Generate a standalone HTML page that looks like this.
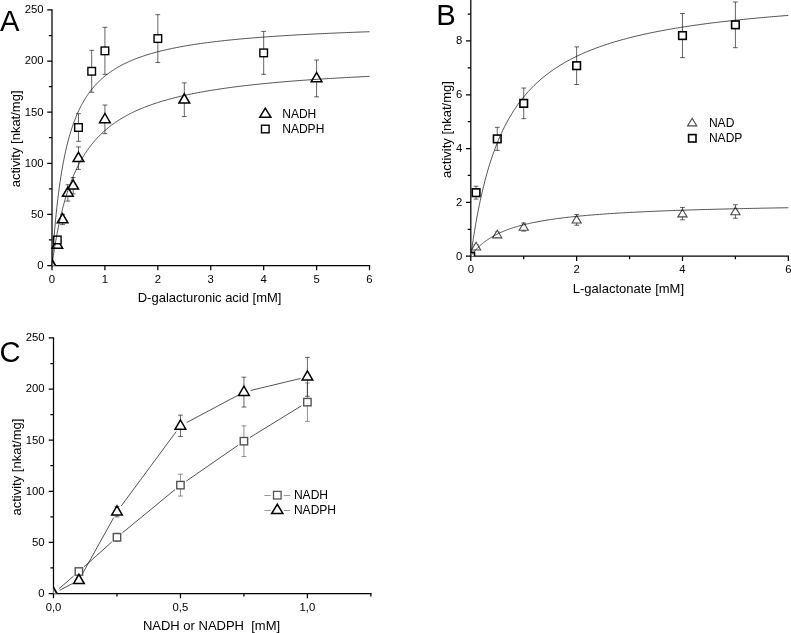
<!DOCTYPE html>
<html><head><meta charset="utf-8"><title>Figure</title>
<style>html,body{margin:0;padding:0;background:#fff}svg{display:block}</style></head>
<body>
<svg width="791" height="633" viewBox="0 0 791 633">
<rect width="791" height="633" fill="#fff"/>
<path d="M52.00 9.32 V266.12" stroke="#000" stroke-width="1.25" fill="none" stroke-linecap="butt"/>
<path d="M51.38 265.50 H370.14" stroke="#000" stroke-width="1.25" fill="none" stroke-linecap="butt"/>
<path d="M52.00 265.50 v4.8 M104.92 265.50 v4.8 M157.84 265.50 v4.8 M210.76 265.50 v4.8 M263.68 265.50 v4.8 M316.60 265.50 v4.8 M369.52 265.50 v4.8 M52.00 265.50 h-4.8 M52.00 214.39 h-4.8 M52.00 163.28 h-4.8 M52.00 112.17 h-4.8 M52.00 61.06 h-4.8 M52.00 9.95 h-4.8 M52.00 239.94 h-3.1 M52.00 188.83 h-3.1 M52.00 137.72 h-3.1 M52.00 86.62 h-3.1 M52.00 35.50 h-3.1 " stroke="#000" stroke-width="1.25" fill="none"/>
<text x="52.00" y="282.70" text-anchor="middle" font-size="11.3" font-family="Liberation Sans, Arial, sans-serif" fill="#000">0</text>
<text x="104.92" y="282.70" text-anchor="middle" font-size="11.3" font-family="Liberation Sans, Arial, sans-serif" fill="#000">1</text>
<text x="157.84" y="282.70" text-anchor="middle" font-size="11.3" font-family="Liberation Sans, Arial, sans-serif" fill="#000">2</text>
<text x="210.76" y="282.70" text-anchor="middle" font-size="11.3" font-family="Liberation Sans, Arial, sans-serif" fill="#000">3</text>
<text x="263.68" y="282.70" text-anchor="middle" font-size="11.3" font-family="Liberation Sans, Arial, sans-serif" fill="#000">4</text>
<text x="316.60" y="282.70" text-anchor="middle" font-size="11.3" font-family="Liberation Sans, Arial, sans-serif" fill="#000">5</text>
<text x="369.52" y="282.70" text-anchor="middle" font-size="11.3" font-family="Liberation Sans, Arial, sans-serif" fill="#000">6</text>
<text x="43.60" y="268.85" text-anchor="end" font-size="11.3" font-family="Liberation Sans, Arial, sans-serif" fill="#000">0</text>
<text x="43.60" y="217.74" text-anchor="end" font-size="11.3" font-family="Liberation Sans, Arial, sans-serif" fill="#000">50</text>
<text x="43.60" y="166.63" text-anchor="end" font-size="11.3" font-family="Liberation Sans, Arial, sans-serif" fill="#000">100</text>
<text x="43.60" y="115.52" text-anchor="end" font-size="11.3" font-family="Liberation Sans, Arial, sans-serif" fill="#000">150</text>
<text x="43.60" y="64.41" text-anchor="end" font-size="11.3" font-family="Liberation Sans, Arial, sans-serif" fill="#000">200</text>
<text x="43.60" y="13.30" text-anchor="end" font-size="11.3" font-family="Liberation Sans, Arial, sans-serif" fill="#000">250</text>
<clipPath id="cA"><rect x="52.0" y="0" width="400" height="265.5"/></clipPath>
<g clip-path="url(#cA)"><path d="M46.65 268.80 L52.00 259.60 L57.35 268.80 Z" fill="#fff" stroke="#000" stroke-width="1.8" stroke-linejoin="miter"/></g>
<path d="M57.29 241.99 V248.12 M54.89 241.99 H59.69 M54.89 248.12 H59.69" stroke="#111" stroke-width="0.65" fill="none"/>
<path d="M62.58 214.39 V224.61 M60.18 214.39 H64.98 M60.18 224.61 H64.98" stroke="#111" stroke-width="0.65" fill="none"/>
<path d="M67.88 184.75 V201.10 M65.48 184.75 H70.28 M65.48 201.10 H70.28" stroke="#111" stroke-width="0.65" fill="none"/>
<path d="M73.17 177.59 V193.95 M70.77 177.59 H75.57 M70.77 193.95 H75.57" stroke="#111" stroke-width="0.65" fill="none"/>
<path d="M78.46 146.92 V169.41 M76.06 146.92 H80.86 M76.06 169.41 H80.86" stroke="#111" stroke-width="0.65" fill="none"/>
<path d="M104.92 105.01 V133.64 M102.52 105.01 H107.32 M102.52 133.64 H107.32" stroke="#111" stroke-width="0.65" fill="none"/>
<path d="M184.30 82.83 V116.57 M181.90 82.83 H186.70 M181.90 116.57 H186.70" stroke="#111" stroke-width="0.65" fill="none"/>
<path d="M316.60 60.04 V96.84 M314.20 60.04 H319.00 M314.20 96.84 H319.00" stroke="#111" stroke-width="0.65" fill="none"/>
<path d="M51.94 248.36 L57.29 239.16 L62.64 248.36 Z" fill="#fff" stroke="#000" stroke-width="1.5" stroke-linejoin="miter"/>
<path d="M57.23 222.80 L62.58 213.60 L67.93 222.80 Z" fill="#fff" stroke="#000" stroke-width="1.5" stroke-linejoin="miter"/>
<path d="M62.53 196.22 L67.88 187.02 L73.23 196.22 Z" fill="#fff" stroke="#000" stroke-width="1.5" stroke-linejoin="miter"/>
<path d="M67.82 189.07 L73.17 179.87 L78.52 189.07 Z" fill="#fff" stroke="#000" stroke-width="1.5" stroke-linejoin="miter"/>
<path d="M73.11 161.47 L78.46 152.27 L83.81 161.47 Z" fill="#fff" stroke="#000" stroke-width="1.5" stroke-linejoin="miter"/>
<path d="M99.57 122.63 L104.92 113.43 L110.27 122.63 Z" fill="#fff" stroke="#000" stroke-width="1.5" stroke-linejoin="miter"/>
<path d="M178.95 103.00 L184.30 93.80 L189.65 103.00 Z" fill="#fff" stroke="#000" stroke-width="1.5" stroke-linejoin="miter"/>
<path d="M311.25 81.74 L316.60 72.54 L321.95 81.74 Z" fill="#fff" stroke="#000" stroke-width="1.5" stroke-linejoin="miter"/>
<path d="M57.29 236.88 V243.01 M54.89 236.88 H59.69 M54.89 243.01 H59.69" stroke="#111" stroke-width="0.65" fill="none"/>
<path d="M78.46 113.70 V141.30 M76.06 113.70 H80.86 M76.06 141.30 H80.86" stroke="#111" stroke-width="0.65" fill="none"/>
<path d="M91.69 50.33 V92.24 M89.29 50.33 H94.09 M89.29 92.24 H94.09" stroke="#111" stroke-width="0.65" fill="none"/>
<path d="M104.92 27.33 V74.35 M102.52 27.33 H107.32 M102.52 74.35 H107.32" stroke="#111" stroke-width="0.65" fill="none"/>
<path d="M157.84 14.65 V62.49 M155.44 14.65 H160.24 M155.44 62.49 H160.24" stroke="#111" stroke-width="0.65" fill="none"/>
<path d="M263.68 31.42 V74.35 M261.28 31.42 H266.08 M261.28 74.35 H266.08" stroke="#111" stroke-width="0.65" fill="none"/>
<rect x="53.49" y="236.14" width="7.6" height="7.6" fill="#fff" stroke="#000" stroke-width="1.4"/>
<rect x="74.66" y="123.70" width="7.6" height="7.6" fill="#fff" stroke="#000" stroke-width="1.4"/>
<rect x="87.89" y="67.48" width="7.6" height="7.6" fill="#fff" stroke="#000" stroke-width="1.4"/>
<rect x="101.12" y="47.04" width="7.6" height="7.6" fill="#fff" stroke="#000" stroke-width="1.4"/>
<rect x="154.04" y="34.77" width="7.6" height="7.6" fill="#fff" stroke="#000" stroke-width="1.4"/>
<rect x="259.88" y="49.08" width="7.6" height="7.6" fill="#fff" stroke="#000" stroke-width="1.4"/>
<polyline points="52.00,265.50 52.00,265.44 52.01,265.28 52.03,265.00 52.06,264.62 52.09,264.12 52.13,263.52 52.17,262.81 52.23,262.00 52.29,261.09 52.35,260.08 52.43,258.97 52.51,257.77 52.60,256.48 52.69,255.10 52.79,253.63 52.90,252.09 53.02,250.46 53.14,248.77 53.27,247.00 53.41,245.17 53.56,243.27 53.71,241.32 53.87,239.31 54.03,237.25 54.20,235.15 54.38,233.00 54.57,230.81 54.77,228.59 54.97,226.33 55.18,224.05 55.39,221.74 55.61,219.41 55.84,217.06 56.08,214.70 56.32,212.32 56.57,209.94 56.83,207.55 57.09,205.15 57.37,202.76 57.64,200.37 57.93,197.98 58.22,195.59 58.52,193.22 58.83,190.85 59.14,188.50 59.47,186.16 59.79,183.83 60.13,181.52 60.47,179.23 60.82,176.96 61.18,174.70 61.54,172.47 61.91,170.26 62.29,168.07 62.67,165.91 63.06,163.77 63.46,161.66 63.87,159.57 64.28,157.51 64.70,155.47 65.13,153.46 65.56,151.48 66.00,149.53 66.45,147.60 66.91,145.70 67.37,143.83 67.84,141.99 68.31,140.17 68.80,138.38 69.29,136.62 69.78,134.89 70.29,133.18 70.80,131.50 71.32,129.85 71.84,128.22 72.38,126.63 72.92,125.05 73.46,123.51 74.02,121.99 74.58,120.49 75.15,119.02 75.72,117.58 76.30,116.16 76.89,114.76 77.49,113.39 78.09,112.04 78.70,110.72 79.32,109.42 79.95,108.14 80.58,106.88 81.22,105.65 81.86,104.44 82.51,103.25 83.17,102.08 83.84,100.93 84.51,99.80 85.19,98.69 85.88,97.59 86.58,96.52 87.28,95.47 87.99,94.44 88.71,93.42 89.43,92.42 90.16,91.44 90.90,90.48 91.64,89.53 92.39,88.60 93.15,87.69 93.92,86.79 94.69,85.91 95.47,85.04 96.26,84.19 97.05,83.35 97.85,82.53 98.66,81.72 99.47,80.93 100.29,80.15 101.12,79.38 101.96,78.63 102.80,77.89 103.65,77.16 104.51,76.44 105.38,75.74 106.25,75.04 107.12,74.36 108.01,73.69 108.90,73.04 109.80,72.39 110.71,71.75 111.62,71.13 112.54,70.51 113.47,69.91 114.41,69.31 115.35,68.73 116.30,68.15 117.25,67.58 118.22,67.03 119.19,66.48 120.16,65.94 121.15,65.41 122.14,64.89 123.14,64.37 124.14,63.87 125.16,63.37 126.18,62.88 127.20,62.40 128.24,61.92 129.28,61.45 130.33,60.99 131.38,60.54 132.44,60.10 133.51,59.66 134.59,59.23 135.67,58.80 136.76,58.38 137.86,57.97 138.96,57.56 140.07,57.16 141.19,56.77 142.32,56.38 143.45,56.00 144.59,55.62 145.74,55.25 146.89,54.88 148.05,54.52 149.22,54.17 150.39,53.82 151.57,53.47 152.76,53.14 153.96,52.80 155.16,52.47 156.37,52.15 157.59,51.83 158.81,51.51 160.05,51.20 161.28,50.89 162.53,50.59 163.78,50.29 165.04,50.00 166.31,49.71 167.58,49.42 168.86,49.14 170.15,48.86 171.44,48.58 172.75,48.31 174.05,48.05 175.37,47.78 176.69,47.52 178.02,47.27 179.36,47.01 180.70,46.77 182.06,46.52 183.41,46.28 184.78,46.04 186.15,45.80 187.53,45.57 188.92,45.34 190.31,45.11 191.71,44.88 193.12,44.66 194.53,44.44 195.96,44.23 197.39,44.02 198.82,43.81 200.26,43.60 201.71,43.39 203.17,43.19 204.64,42.99 206.11,42.79 207.58,42.60 209.07,42.41 210.56,42.22 212.06,42.03 213.57,41.84 215.08,41.66 216.60,41.48 218.13,41.30 219.66,41.13 221.21,40.95 222.76,40.78 224.31,40.61 225.87,40.44 227.44,40.27 229.02,40.11 230.61,39.95 232.20,39.79 233.79,39.63 235.40,39.47 237.01,39.32 238.63,39.17 240.26,39.01 241.89,38.87 243.53,38.72 245.18,38.57 246.83,38.43 248.50,38.29 250.16,38.14 251.84,38.01 253.52,37.87 255.21,37.73 256.91,37.60 258.61,37.46 260.32,37.33 262.04,37.20 263.77,37.07 265.50,36.95 267.24,36.82 268.99,36.70 270.74,36.57 272.50,36.45 274.27,36.33 276.04,36.21 277.82,36.09 279.61,35.98 281.41,35.86 283.21,35.75 285.02,35.63 286.84,35.52 288.66,35.41 290.49,35.30 292.33,35.19 294.18,35.09 296.03,34.98 297.89,34.88 299.75,34.77 301.63,34.67 303.51,34.57 305.40,34.47 307.29,34.37 309.19,34.27 311.10,34.17 313.02,34.07 314.94,33.98 316.87,33.88 318.80,33.79 320.75,33.70 322.70,33.61 324.66,33.52 326.62,33.43 328.60,33.34 330.57,33.25 332.56,33.16 334.55,33.08 336.55,32.99 338.56,32.90 340.58,32.82 342.60,32.74 344.63,32.66 346.66,32.57 348.70,32.49 350.75,32.41 352.81,32.33 354.88,32.26 356.95,32.18 359.02,32.10 361.11,32.02 363.20,31.95 365.30,31.87 367.41,31.80 369.52,31.73" fill="none" stroke="#000" stroke-width="0.68"/>
<polyline points="52.00,265.50 52.00,265.47 52.01,265.40 52.03,265.26 52.06,265.08 52.09,264.85 52.13,264.56 52.17,264.23 52.23,263.84 52.29,263.40 52.35,262.92 52.43,262.38 52.51,261.80 52.60,261.17 52.69,260.50 52.79,259.78 52.90,259.01 53.02,258.21 53.14,257.36 53.27,256.47 53.41,255.54 53.56,254.57 53.71,253.57 53.87,252.53 54.03,251.46 54.20,250.35 54.38,249.21 54.57,248.04 54.77,246.85 54.97,245.62 55.18,244.37 55.39,243.09 55.61,241.79 55.84,240.47 56.08,239.13 56.32,237.77 56.57,236.39 56.83,234.99 57.09,233.58 57.37,232.15 57.64,230.71 57.93,229.26 58.22,227.80 58.52,226.33 58.83,224.85 59.14,223.37 59.47,221.88 59.79,220.38 60.13,218.88 60.47,217.38 60.82,215.87 61.18,214.36 61.54,212.86 61.91,211.35 62.29,209.85 62.67,208.34 63.06,206.84 63.46,205.35 63.87,203.86 64.28,202.37 64.70,200.89 65.13,199.42 65.56,197.95 66.00,196.49 66.45,195.04 66.91,193.60 67.37,192.16 67.84,190.74 68.31,189.32 68.80,187.92 69.29,186.52 69.78,185.14 70.29,183.76 70.80,182.40 71.32,181.05 71.84,179.71 72.38,178.38 72.92,177.07 73.46,175.76 74.02,174.47 74.58,173.20 75.15,171.93 75.72,170.68 76.30,169.44 76.89,168.21 77.49,167.00 78.09,165.79 78.70,164.61 79.32,163.43 79.95,162.27 80.58,161.12 81.22,159.98 81.86,158.86 82.51,157.75 83.17,156.66 83.84,155.57 84.51,154.50 85.19,153.44 85.88,152.40 86.58,151.36 87.28,150.35 87.99,149.34 88.71,148.34 89.43,147.36 90.16,146.39 90.90,145.43 91.64,144.49 92.39,143.55 93.15,142.63 93.92,141.72 94.69,140.82 95.47,139.94 96.26,139.06 97.05,138.20 97.85,137.34 98.66,136.50 99.47,135.67 100.29,134.85 101.12,134.04 101.96,133.24 102.80,132.45 103.65,131.68 104.51,130.91 105.38,130.15 106.25,129.40 107.12,128.67 108.01,127.94 108.90,127.22 109.80,126.51 110.71,125.81 111.62,125.12 112.54,124.44 113.47,123.77 114.41,123.11 115.35,122.45 116.30,121.81 117.25,121.17 118.22,120.54 119.19,119.92 120.16,119.31 121.15,118.70 122.14,118.11 123.14,117.52 124.14,116.94 125.16,116.36 126.18,115.80 127.20,115.24 128.24,114.69 129.28,114.15 130.33,113.61 131.38,113.08 132.44,112.56 133.51,112.04 134.59,111.53 135.67,111.03 136.76,110.53 137.86,110.04 138.96,109.56 140.07,109.08 141.19,108.61 142.32,108.15 143.45,107.69 144.59,107.23 145.74,106.79 146.89,106.34 148.05,105.91 149.22,105.48 150.39,105.05 151.57,104.63 152.76,104.22 153.96,103.81 155.16,103.40 156.37,103.01 157.59,102.61 158.81,102.22 160.05,101.84 161.28,101.46 162.53,101.08 163.78,100.71 165.04,100.35 166.31,99.99 167.58,99.63 168.86,99.28 170.15,98.93 171.44,98.58 172.75,98.24 174.05,97.91 175.37,97.58 176.69,97.25 178.02,96.93 179.36,96.61 180.70,96.29 182.06,95.98 183.41,95.67 184.78,95.36 186.15,95.06 187.53,94.77 188.92,94.47 190.31,94.18 191.71,93.89 193.12,93.61 194.53,93.33 195.96,93.05 197.39,92.78 198.82,92.51 200.26,92.24 201.71,91.97 203.17,91.71 204.64,91.45 206.11,91.20 207.58,90.94 209.07,90.69 210.56,90.45 212.06,90.20 213.57,89.96 215.08,89.72 216.60,89.49 218.13,89.25 219.66,89.02 221.21,88.79 222.76,88.57 224.31,88.34 225.87,88.12 227.44,87.90 229.02,87.69 230.61,87.47 232.20,87.26 233.79,87.05 235.40,86.85 237.01,86.64 238.63,86.44 240.26,86.24 241.89,86.04 243.53,85.84 245.18,85.65 246.83,85.46 248.50,85.27 250.16,85.08 251.84,84.89 253.52,84.71 255.21,84.53 256.91,84.35 258.61,84.17 260.32,83.99 262.04,83.82 263.77,83.65 265.50,83.48 267.24,83.31 268.99,83.14 270.74,82.97 272.50,82.81 274.27,82.65 276.04,82.49 277.82,82.33 279.61,82.17 281.41,82.01 283.21,81.86 285.02,81.71 286.84,81.55 288.66,81.40 290.49,81.26 292.33,81.11 294.18,80.96 296.03,80.82 297.89,80.68 299.75,80.54 301.63,80.40 303.51,80.26 305.40,80.12 307.29,79.98 309.19,79.85 311.10,79.72 313.02,79.58 314.94,79.45 316.87,79.32 318.80,79.20 320.75,79.07 322.70,78.94 324.66,78.82 326.62,78.70 328.60,78.57 330.57,78.45 332.56,78.33 334.55,78.21 336.55,78.10 338.56,77.98 340.58,77.86 342.60,77.75 344.63,77.64 346.66,77.52 348.70,77.41 350.75,77.30 352.81,77.19 354.88,77.08 356.95,76.98 359.02,76.87 361.11,76.76 363.20,76.66 365.30,76.56 367.41,76.45 369.52,76.35" fill="none" stroke="#000" stroke-width="0.68"/>
<path d="M259.70 117.30 L265.30 108.10 L270.90 117.30 Z" fill="#fff" stroke="#000" stroke-width="1.5" stroke-linejoin="miter"/>
<rect x="261.50" y="125.20" width="7.6" height="7.6" fill="#fff" stroke="#000" stroke-width="1.4"/>
<text x="282.2" y="118.0" font-size="12.05" font-family="Liberation Sans, Arial, sans-serif" fill="#000">NADH</text>
<text x="282.2" y="132.9" font-size="12.05" font-family="Liberation Sans, Arial, sans-serif" fill="#000">NADPH</text>
<text transform="translate(20.2,138.9) rotate(-90)" text-anchor="middle" font-size="13" font-family="Liberation Sans, Arial, sans-serif" fill="#000">activity [nkat/mg]</text>
<text x="209.6" y="302.1" text-anchor="middle" font-size="13" font-family="Liberation Sans, Arial, sans-serif" fill="#000" style="white-space:pre">D-galacturonic acid [mM]</text>
<text x="0" y="31" font-size="29.2" font-family="Liberation Sans, Arial, sans-serif" fill="#000">A</text>
<path d="M470.80 -2.62 V256.77" stroke="#000" stroke-width="1.25" fill="none" stroke-linecap="butt"/>
<path d="M470.18 256.15 H788.94" stroke="#000" stroke-width="1.25" fill="none" stroke-linecap="butt"/>
<path d="M470.80 256.15 v4.8 M576.64 256.15 v4.8 M682.48 256.15 v4.8 M788.32 256.15 v4.8 M523.72 256.15 v3.1 M629.56 256.15 v3.1 M735.40 256.15 v3.1 M470.80 256.15 h-4.8 M470.80 202.35 h-4.8 M470.80 148.55 h-4.8 M470.80 94.75 h-4.8 M470.80 40.95 h-4.8 M470.80 229.25 h-3.1 M470.80 175.45 h-3.1 M470.80 121.65 h-3.1 M470.80 67.85 h-3.1 M470.80 14.05 h-3.1 " stroke="#000" stroke-width="1.25" fill="none"/>
<text x="470.80" y="273.35" text-anchor="middle" font-size="11.3" font-family="Liberation Sans, Arial, sans-serif" fill="#000">0</text>
<text x="576.64" y="273.35" text-anchor="middle" font-size="11.3" font-family="Liberation Sans, Arial, sans-serif" fill="#000">2</text>
<text x="682.48" y="273.35" text-anchor="middle" font-size="11.3" font-family="Liberation Sans, Arial, sans-serif" fill="#000">4</text>
<text x="788.32" y="273.35" text-anchor="middle" font-size="11.3" font-family="Liberation Sans, Arial, sans-serif" fill="#000">6</text>
<text x="462.40" y="259.50" text-anchor="end" font-size="11.3" font-family="Liberation Sans, Arial, sans-serif" fill="#000">0</text>
<text x="462.40" y="205.70" text-anchor="end" font-size="11.3" font-family="Liberation Sans, Arial, sans-serif" fill="#000">2</text>
<text x="462.40" y="151.90" text-anchor="end" font-size="11.3" font-family="Liberation Sans, Arial, sans-serif" fill="#000">4</text>
<text x="462.40" y="98.10" text-anchor="end" font-size="11.3" font-family="Liberation Sans, Arial, sans-serif" fill="#000">6</text>
<text x="462.40" y="44.30" text-anchor="end" font-size="11.3" font-family="Liberation Sans, Arial, sans-serif" fill="#000">8</text>
<clipPath id="cB"><rect x="470.8" y="0" width="400" height="256.15"/></clipPath>
<g clip-path="url(#cB)"><rect x="467.10" y="252.45" width="7.4" height="7.4" fill="#fff" stroke="#000" stroke-width="1.6"/></g>
<path d="M476.09 244.58 V248.89 M473.69 244.58 H478.49 M473.69 248.89 H478.49" stroke="#111" stroke-width="0.65" fill="none"/>
<path d="M497.26 231.94 V237.32 M494.86 231.94 H499.66 M494.86 237.32 H499.66" stroke="#111" stroke-width="0.65" fill="none"/>
<path d="M523.72 223.06 V231.13 M521.32 223.06 H526.12 M521.32 231.13 H526.12" stroke="#111" stroke-width="0.65" fill="none"/>
<path d="M576.64 214.45 V225.21 M574.24 214.45 H579.04 M574.24 225.21 H579.04" stroke="#111" stroke-width="0.65" fill="none"/>
<path d="M682.48 207.46 V219.83 M680.08 207.46 H684.88 M680.08 219.83 H684.88" stroke="#111" stroke-width="0.65" fill="none"/>
<path d="M735.40 204.77 V218.22 M733.00 204.77 H737.80 M733.00 218.22 H737.80" stroke="#111" stroke-width="0.65" fill="none"/>
<path d="M471.49 249.94 L476.09 242.33 L480.69 249.94 Z" fill="#fff" stroke="#484848" stroke-width="1.1" stroke-linejoin="miter"/>
<path d="M492.66 237.83 L497.26 230.23 L501.86 237.83 Z" fill="#fff" stroke="#484848" stroke-width="1.1" stroke-linejoin="miter"/>
<path d="M519.12 230.30 L523.72 222.70 L528.32 230.30 Z" fill="#fff" stroke="#484848" stroke-width="1.1" stroke-linejoin="miter"/>
<path d="M572.04 223.03 L576.64 215.43 L581.24 223.03 Z" fill="#fff" stroke="#484848" stroke-width="1.1" stroke-linejoin="miter"/>
<path d="M677.88 216.85 L682.48 209.25 L687.08 216.85 Z" fill="#fff" stroke="#484848" stroke-width="1.1" stroke-linejoin="miter"/>
<path d="M730.80 214.70 L735.40 207.10 L740.00 214.70 Z" fill="#fff" stroke="#484848" stroke-width="1.1" stroke-linejoin="miter"/>
<path d="M476.09 186.21 V199.12 M473.69 186.21 H478.49 M473.69 199.12 H478.49" stroke="#111" stroke-width="0.65" fill="none"/>
<path d="M497.26 127.30 V150.43 M494.86 127.30 H499.66 M494.86 150.43 H499.66" stroke="#111" stroke-width="0.65" fill="none"/>
<path d="M523.72 88.02 V118.69 M521.32 88.02 H526.12 M521.32 118.69 H526.12" stroke="#111" stroke-width="0.65" fill="none"/>
<path d="M576.64 46.87 V84.53 M574.24 46.87 H579.04 M574.24 84.53 H579.04" stroke="#111" stroke-width="0.65" fill="none"/>
<path d="M682.48 13.51 V57.63 M680.08 13.51 H684.88 M680.08 57.63 H684.88" stroke="#111" stroke-width="0.65" fill="none"/>
<path d="M735.40 1.95 V47.67 M733.00 1.95 H737.80 M733.00 47.67 H737.80" stroke="#111" stroke-width="0.65" fill="none"/>
<rect x="472.29" y="188.87" width="7.6" height="7.6" fill="#fff" stroke="#000" stroke-width="1.6"/>
<rect x="493.46" y="135.07" width="7.6" height="7.6" fill="#fff" stroke="#000" stroke-width="1.6"/>
<rect x="519.92" y="99.56" width="7.6" height="7.6" fill="#fff" stroke="#000" stroke-width="1.6"/>
<rect x="572.84" y="61.90" width="7.6" height="7.6" fill="#fff" stroke="#000" stroke-width="1.6"/>
<rect x="678.68" y="31.77" width="7.6" height="7.6" fill="#fff" stroke="#000" stroke-width="1.6"/>
<rect x="731.60" y="21.01" width="7.6" height="7.6" fill="#fff" stroke="#000" stroke-width="1.6"/>
<polyline points="470.80,256.15 470.80,256.12 470.81,256.05 470.83,255.91 470.86,255.73 470.89,255.50 470.93,255.21 470.97,254.88 471.03,254.49 471.09,254.05 471.15,253.56 471.23,253.02 471.31,252.44 471.40,251.80 471.49,251.12 471.59,250.39 471.70,249.62 471.82,248.80 471.94,247.94 472.07,247.03 472.21,246.09 472.36,245.10 472.51,244.07 472.67,243.00 472.83,241.89 473.00,240.75 473.18,239.57 473.37,238.36 473.57,237.11 473.77,235.83 473.98,234.52 474.19,233.18 474.41,231.81 474.64,230.42 474.88,228.99 475.12,227.54 475.37,226.07 475.63,224.58 475.89,223.06 476.17,221.52 476.44,219.97 476.73,218.40 477.02,216.80 477.32,215.20 477.63,213.58 477.94,211.94 478.27,210.30 478.59,208.64 478.93,206.97 479.27,205.29 479.62,203.60 479.98,201.91 480.34,200.21 480.71,198.51 481.09,196.80 481.47,195.08 481.86,193.37 482.26,191.65 482.67,189.93 483.08,188.21 483.50,186.49 483.93,184.77 484.36,183.05 484.80,181.34 485.25,179.63 485.71,177.92 486.17,176.22 486.64,174.52 487.11,172.83 487.60,171.14 488.09,169.46 488.58,167.79 489.09,166.13 489.60,164.47 490.12,162.82 490.64,161.18 491.18,159.55 491.72,157.93 492.26,156.32 492.82,154.71 493.38,153.12 493.95,151.54 494.52,149.97 495.10,148.41 495.69,146.87 496.29,145.33 496.89,143.81 497.50,142.29 498.12,140.79 498.75,139.31 499.38,137.83 500.02,136.37 500.66,134.92 501.31,133.48 501.97,132.05 502.64,130.64 503.31,129.24 503.99,127.86 504.68,126.48 505.38,125.12 506.08,123.77 506.79,122.44 507.51,121.12 508.23,119.81 508.96,118.52 509.70,117.23 510.44,115.97 511.19,114.71 511.95,113.47 512.72,112.24 513.49,111.02 514.27,109.81 515.06,108.62 515.85,107.44 516.65,106.28 517.46,105.12 518.27,103.98 519.09,102.85 519.92,101.74 520.76,100.63 521.60,99.54 522.45,98.46 523.31,97.39 524.18,96.34 525.05,95.29 525.93,94.26 526.81,93.24 527.70,92.23 528.60,91.23 529.51,90.25 530.42,89.27 531.34,88.31 532.27,87.35 533.21,86.41 534.15,85.48 535.10,84.56 536.05,83.65 537.02,82.75 537.99,81.86 538.96,80.98 539.95,80.11 540.94,79.25 541.94,78.40 542.94,77.56 543.96,76.73 544.98,75.91 546.00,75.10 547.04,74.30 548.08,73.51 549.13,72.73 550.18,71.95 551.24,71.19 552.31,70.43 553.39,69.68 554.47,68.95 555.56,68.22 556.66,67.49 557.76,66.78 558.87,66.08 559.99,65.38 561.12,64.69 562.25,64.01 563.39,63.34 564.54,62.67 565.69,62.01 566.85,61.36 568.02,60.72 569.19,60.09 570.37,59.46 571.56,58.84 572.76,58.22 573.96,57.62 575.17,57.02 576.39,56.42 577.61,55.84 578.85,55.26 580.08,54.69 581.33,54.12 582.58,53.56 583.84,53.01 585.11,52.46 586.38,51.92 587.66,51.38 588.95,50.85 590.24,50.33 591.55,49.81 592.85,49.30 594.17,48.80 595.49,48.30 596.82,47.80 598.16,47.31 599.50,46.83 600.86,46.35 602.21,45.88 603.58,45.41 604.95,44.94 606.33,44.49 607.72,44.03 609.11,43.59 610.51,43.14 611.92,42.71 613.33,42.27 614.76,41.84 616.19,41.42 617.62,41.00 619.06,40.59 620.51,40.17 621.97,39.77 623.44,39.37 624.91,38.97 626.38,38.58 627.87,38.19 629.36,37.80 630.86,37.42 632.37,37.04 633.88,36.67 635.40,36.30 636.93,35.94 638.46,35.58 640.01,35.22 641.56,34.87 643.11,34.52 644.67,34.17 646.24,33.83 647.82,33.49 649.40,33.15 651.00,32.82 652.59,32.49 654.20,32.16 655.81,31.84 657.43,31.52 659.06,31.21 660.69,30.90 662.33,30.59 663.98,30.28 665.63,29.98 667.30,29.68 668.96,29.38 670.64,29.09 672.32,28.79 674.01,28.51 675.71,28.22 677.41,27.94 679.12,27.66 680.84,27.38 682.57,27.11 684.30,26.84 686.04,26.57 687.79,26.30 689.54,26.04 691.30,25.78 693.07,25.52 694.84,25.26 696.62,25.01 698.41,24.76 700.21,24.51 702.01,24.26 703.82,24.02 705.64,23.77 707.46,23.54 709.29,23.30 711.13,23.06 712.98,22.83 714.83,22.60 716.69,22.37 718.55,22.15 720.43,21.92 722.31,21.70 724.20,21.48 726.09,21.26 727.99,21.05 729.90,20.83 731.82,20.62 733.74,20.41 735.67,20.20 737.61,20.00 739.55,19.79 741.50,19.59 743.46,19.39 745.42,19.19 747.40,18.99 749.37,18.80 751.36,18.60 753.35,18.41 755.35,18.22 757.36,18.03 759.38,17.85 761.40,17.66 763.43,17.48 765.46,17.30 767.50,17.12 769.55,16.94 771.61,16.76 773.68,16.59 775.75,16.41 777.82,16.24 779.91,16.07 782.00,15.90 784.10,15.73 786.21,15.57 788.32,15.40" fill="none" stroke="#000" stroke-width="0.68"/>
<polyline points="470.80,256.15 470.80,256.15 470.81,256.13 470.83,256.11 470.86,256.07 470.89,256.03 470.93,255.97 470.97,255.91 471.03,255.83 471.09,255.75 471.15,255.66 471.23,255.56 471.31,255.45 471.40,255.32 471.49,255.19 471.59,255.06 471.70,254.91 471.82,254.75 471.94,254.59 472.07,254.42 472.21,254.24 472.36,254.05 472.51,253.85 472.67,253.65 472.83,253.44 473.00,253.22 473.18,252.99 473.37,252.76 473.57,252.52 473.77,252.28 473.98,252.03 474.19,251.77 474.41,251.51 474.64,251.24 474.88,250.96 475.12,250.69 475.37,250.40 475.63,250.11 475.89,249.82 476.17,249.53 476.44,249.23 476.73,248.92 477.02,248.61 477.32,248.30 477.63,247.99 477.94,247.67 478.27,247.35 478.59,247.03 478.93,246.71 479.27,246.38 479.62,246.05 479.98,245.73 480.34,245.39 480.71,245.06 481.09,244.73 481.47,244.39 481.86,244.06 482.26,243.72 482.67,243.39 483.08,243.05 483.50,242.71 483.93,242.38 484.36,242.04 484.80,241.70 485.25,241.36 485.71,241.03 486.17,240.69 486.64,240.36 487.11,240.02 487.60,239.69 488.09,239.36 488.58,239.03 489.09,238.70 489.60,238.37 490.12,238.04 490.64,237.72 491.18,237.39 491.72,237.07 492.26,236.75 492.82,236.43 493.38,236.12 493.95,235.80 494.52,235.49 495.10,235.18 495.69,234.87 496.29,234.56 496.89,234.26 497.50,233.95 498.12,233.65 498.75,233.35 499.38,233.06 500.02,232.76 500.66,232.47 501.31,232.18 501.97,231.90 502.64,231.61 503.31,231.33 503.99,231.05 504.68,230.77 505.38,230.50 506.08,230.23 506.79,229.96 507.51,229.69 508.23,229.42 508.96,229.16 509.70,228.90 510.44,228.64 511.19,228.39 511.95,228.14 512.72,227.89 513.49,227.64 514.27,227.39 515.06,227.15 515.85,226.91 516.65,226.67 517.46,226.44 518.27,226.21 519.09,225.98 519.92,225.75 520.76,225.52 521.60,225.30 522.45,225.08 523.31,224.86 524.18,224.64 525.05,224.43 525.93,224.22 526.81,224.01 527.70,223.80 528.60,223.60 529.51,223.39 530.42,223.19 531.34,222.99 532.27,222.80 533.21,222.60 534.15,222.41 535.10,222.22 536.05,222.04 537.02,221.85 537.99,221.67 538.96,221.48 539.95,221.31 540.94,221.13 541.94,220.95 542.94,220.78 543.96,220.61 544.98,220.44 546.00,220.27 547.04,220.10 548.08,219.94 549.13,219.78 550.18,219.62 551.24,219.46 552.31,219.30 553.39,219.15 554.47,218.99 555.56,218.84 556.66,218.69 557.76,218.54 558.87,218.40 559.99,218.25 561.12,218.11 562.25,217.97 563.39,217.83 564.54,217.69 565.69,217.55 566.85,217.42 568.02,217.28 569.19,217.15 570.37,217.02 571.56,216.89 572.76,216.76 573.96,216.64 575.17,216.51 576.39,216.39 577.61,216.26 578.85,216.14 580.08,216.02 581.33,215.91 582.58,215.79 583.84,215.67 585.11,215.56 586.38,215.44 587.66,215.33 588.95,215.22 590.24,215.11 591.55,215.00 592.85,214.90 594.17,214.79 595.49,214.69 596.82,214.58 598.16,214.48 599.50,214.38 600.86,214.28 602.21,214.18 603.58,214.08 604.95,213.98 606.33,213.89 607.72,213.79 609.11,213.70 610.51,213.60 611.92,213.51 613.33,213.42 614.76,213.33 616.19,213.24 617.62,213.15 619.06,213.07 620.51,212.98 621.97,212.89 623.44,212.81 624.91,212.72 626.38,212.64 627.87,212.56 629.36,212.48 630.86,212.40 632.37,212.32 633.88,212.24 635.40,212.16 636.93,212.09 638.46,212.01 640.01,211.93 641.56,211.86 643.11,211.79 644.67,211.71 646.24,211.64 647.82,211.57 649.40,211.50 651.00,211.43 652.59,211.36 654.20,211.29 655.81,211.22 657.43,211.15 659.06,211.09 660.69,211.02 662.33,210.95 663.98,210.89 665.63,210.83 667.30,210.76 668.96,210.70 670.64,210.64 672.32,210.58 674.01,210.51 675.71,210.45 677.41,210.39 679.12,210.33 680.84,210.28 682.57,210.22 684.30,210.16 686.04,210.10 687.79,210.05 689.54,209.99 691.30,209.94 693.07,209.88 694.84,209.83 696.62,209.77 698.41,209.72 700.21,209.67 702.01,209.61 703.82,209.56 705.64,209.51 707.46,209.46 709.29,209.41 711.13,209.36 712.98,209.31 714.83,209.26 716.69,209.21 718.55,209.17 720.43,209.12 722.31,209.07 724.20,209.02 726.09,208.98 727.99,208.93 729.90,208.89 731.82,208.84 733.74,208.80 735.67,208.75 737.61,208.71 739.55,208.66 741.50,208.62 743.46,208.58 745.42,208.54 747.40,208.49 749.37,208.45 751.36,208.41 753.35,208.37 755.35,208.33 757.36,208.29 759.38,208.25 761.40,208.21 763.43,208.17 765.46,208.13 767.50,208.10 769.55,208.06 771.61,208.02 773.68,207.98 775.75,207.95 777.82,207.91 779.91,207.87 782.00,207.84 784.10,207.80 786.21,207.77 788.32,207.73" fill="none" stroke="#000" stroke-width="0.68"/>
<path d="M687.60 125.90 L692.20 118.30 L696.80 125.90 Z" fill="#fff" stroke="#484848" stroke-width="1.1" stroke-linejoin="miter"/>
<rect x="688.60" y="134.60" width="7.4" height="7.4" fill="#fff" stroke="#000" stroke-width="1.6"/>
<text x="708.9" y="127.0" font-size="12.05" font-family="Liberation Sans, Arial, sans-serif" fill="#000">NAD</text>
<text x="708.9" y="142.4" font-size="12.05" font-family="Liberation Sans, Arial, sans-serif" fill="#000">NADP</text>
<text transform="translate(451.0,129.5) rotate(-90)" text-anchor="middle" font-size="13" font-family="Liberation Sans, Arial, sans-serif" fill="#000">activity [nkat/mg]</text>
<text x="628.4" y="293" text-anchor="middle" font-size="13" font-family="Liberation Sans, Arial, sans-serif" fill="#000" style="white-space:pre">L-galactonate [mM]</text>
<text x="436.2" y="24.7" font-size="29.2" font-family="Liberation Sans, Arial, sans-serif" fill="#000">B</text>
<path d="M53.50 337.32 V594.12" stroke="#000" stroke-width="1.25" fill="none" stroke-linecap="butt"/>
<path d="M52.88 593.50 H371.50" stroke="#000" stroke-width="1.25" fill="none" stroke-linecap="butt"/>
<path d="M53.50 593.50 v4.8 M180.45 593.50 v4.8 M307.40 593.50 v4.8 M116.97 593.50 v3.1 M243.93 593.50 v3.1 M370.88 593.50 v3.1 M53.50 593.50 h-4.8 M53.50 542.39 h-4.8 M53.50 491.28 h-4.8 M53.50 440.17 h-4.8 M53.50 389.06 h-4.8 M53.50 337.95 h-4.8 M53.50 567.95 h-3.1 M53.50 516.84 h-3.1 M53.50 465.73 h-3.1 M53.50 414.62 h-3.1 M53.50 363.50 h-3.1 " stroke="#000" stroke-width="1.25" fill="none"/>
<text x="53.50" y="610.70" text-anchor="middle" font-size="11.3" font-family="Liberation Sans, Arial, sans-serif" fill="#000">0,0</text>
<text x="180.45" y="610.70" text-anchor="middle" font-size="11.3" font-family="Liberation Sans, Arial, sans-serif" fill="#000">0,5</text>
<text x="307.40" y="610.70" text-anchor="middle" font-size="11.3" font-family="Liberation Sans, Arial, sans-serif" fill="#000">1,0</text>
<text x="44.50" y="596.85" text-anchor="end" font-size="11.3" font-family="Liberation Sans, Arial, sans-serif" fill="#000">0</text>
<text x="44.50" y="545.74" text-anchor="end" font-size="11.3" font-family="Liberation Sans, Arial, sans-serif" fill="#000">50</text>
<text x="44.50" y="494.63" text-anchor="end" font-size="11.3" font-family="Liberation Sans, Arial, sans-serif" fill="#000">100</text>
<text x="44.50" y="443.52" text-anchor="end" font-size="11.3" font-family="Liberation Sans, Arial, sans-serif" fill="#000">150</text>
<text x="44.50" y="392.41" text-anchor="end" font-size="11.3" font-family="Liberation Sans, Arial, sans-serif" fill="#000">200</text>
<text x="44.50" y="341.30" text-anchor="end" font-size="11.3" font-family="Liberation Sans, Arial, sans-serif" fill="#000">250</text>
<clipPath id="cC"><rect x="53.5" y="0" width="400" height="593.5"/></clipPath>
<g clip-path="url(#cC)"><path d="M48.15 596.80 L53.50 587.60 L58.85 596.80 Z" fill="#fff" stroke="#000" stroke-width="1.8" stroke-linejoin="miter"/></g>
<path d="M58.79 588.92 L73.60 576.10 M84.10 566.84 L111.77 541.96 M122.38 532.84 L175.04 489.59 M186.20 481.16 L238.17 445.18 M249.89 437.52 L301.44 405.81 " stroke="#000" stroke-width="0.68" fill="none"/>
<path d="M59.70 590.25 L72.69 583.46 M82.29 574.09 L113.57 517.84 M121.14 506.10 L176.29 431.49 M186.63 422.57 L237.74 395.41 M250.73 390.48 L300.60 378.44 " stroke="#000" stroke-width="0.68" fill="none"/>
<path d="M78.89 568.46 V574.59 M76.49 568.46 H81.29 M76.49 574.59 H81.29" stroke="#555" stroke-width="0.65" fill="none"/>
<path d="M116.97 533.19 V541.37 M114.57 533.19 H119.38 M114.57 541.37 H119.38" stroke="#555" stroke-width="0.65" fill="none"/>
<path d="M180.45 474.21 V496.08 M178.05 474.21 H182.85 M178.05 496.08 H182.85" stroke="#555" stroke-width="0.65" fill="none"/>
<path d="M243.93 425.86 V456.53 M241.53 425.86 H246.33 M241.53 456.53 H246.33" stroke="#555" stroke-width="0.65" fill="none"/>
<path d="M307.40 382.93 V421.36 M305.00 382.93 H309.80 M305.00 421.36 H309.80" stroke="#555" stroke-width="0.65" fill="none"/>
<rect x="75.19" y="567.82" width="7.4" height="7.4" fill="#fff" stroke="#555" stroke-width="1.4"/>
<rect x="113.27" y="533.58" width="7.4" height="7.4" fill="#fff" stroke="#555" stroke-width="1.4"/>
<rect x="176.75" y="481.45" width="7.4" height="7.4" fill="#fff" stroke="#555" stroke-width="1.4"/>
<rect x="240.23" y="437.49" width="7.4" height="7.4" fill="#fff" stroke="#555" stroke-width="1.4"/>
<rect x="303.70" y="398.44" width="7.4" height="7.4" fill="#fff" stroke="#555" stroke-width="1.4"/>
<path d="M78.89 577.14 V583.28 M76.49 577.14 H81.29 M76.49 583.28 H81.29" stroke="#111" stroke-width="0.65" fill="none"/>
<path d="M116.97 506.61 V516.84 M114.57 506.61 H119.38 M114.57 516.84 H119.38" stroke="#111" stroke-width="0.65" fill="none"/>
<path d="M180.45 415.13 V436.59 M178.05 415.13 H182.85 M178.05 436.59 H182.85" stroke="#111" stroke-width="0.65" fill="none"/>
<path d="M243.93 377.20 V407.05 M241.53 377.20 H246.33 M241.53 407.05 H246.33" stroke="#111" stroke-width="0.65" fill="none"/>
<path d="M307.40 357.37 V396.22 M305.00 357.37 H309.80 M305.00 396.22 H309.80" stroke="#111" stroke-width="0.65" fill="none"/>
<path d="M73.54 583.51 L78.89 574.31 L84.24 583.51 Z" fill="#fff" stroke="#000" stroke-width="1.5" stroke-linejoin="miter"/>
<path d="M111.62 515.02 L116.97 505.82 L122.32 515.02 Z" fill="#fff" stroke="#000" stroke-width="1.5" stroke-linejoin="miter"/>
<path d="M175.10 429.16 L180.45 419.96 L185.80 429.16 Z" fill="#fff" stroke="#000" stroke-width="1.5" stroke-linejoin="miter"/>
<path d="M238.58 395.43 L243.93 386.23 L249.28 395.43 Z" fill="#fff" stroke="#000" stroke-width="1.5" stroke-linejoin="miter"/>
<path d="M302.05 380.09 L307.40 370.89 L312.75 380.09 Z" fill="#fff" stroke="#000" stroke-width="1.5" stroke-linejoin="miter"/>
<path d="M264.3 495.5 H270.8 M283.8 495.5 H290.3 M264.3 510.5 H270.8 M283.8 510.5 H290.3" stroke="#999" stroke-width="1"/>
<rect x="273.50" y="491.40" width="7.6" height="7.6" fill="#fff" stroke="#555" stroke-width="1.3"/>
<path d="M271.70 513.50 L277.30 504.30 L282.90 513.50 Z" fill="#fff" stroke="#000" stroke-width="1.5" stroke-linejoin="miter"/>
<text x="293.9" y="499.3" font-size="12.05" font-family="Liberation Sans, Arial, sans-serif" fill="#000">NADH</text>
<text x="293.9" y="514.1" font-size="12.05" font-family="Liberation Sans, Arial, sans-serif" fill="#000">NADPH</text>
<text transform="translate(21.3,467.1) rotate(-90)" text-anchor="middle" font-size="13" font-family="Liberation Sans, Arial, sans-serif" fill="#000">activity [nkat/mg]</text>
<text x="211.5" y="630.2" text-anchor="middle" font-size="13" font-family="Liberation Sans, Arial, sans-serif" fill="#000" style="white-space:pre">NADH or NADPH  [mM]</text>
<text x="-0.6" y="362.2" font-size="29.2" font-family="Liberation Sans, Arial, sans-serif" fill="#000">C</text>
</svg>
</body></html>
